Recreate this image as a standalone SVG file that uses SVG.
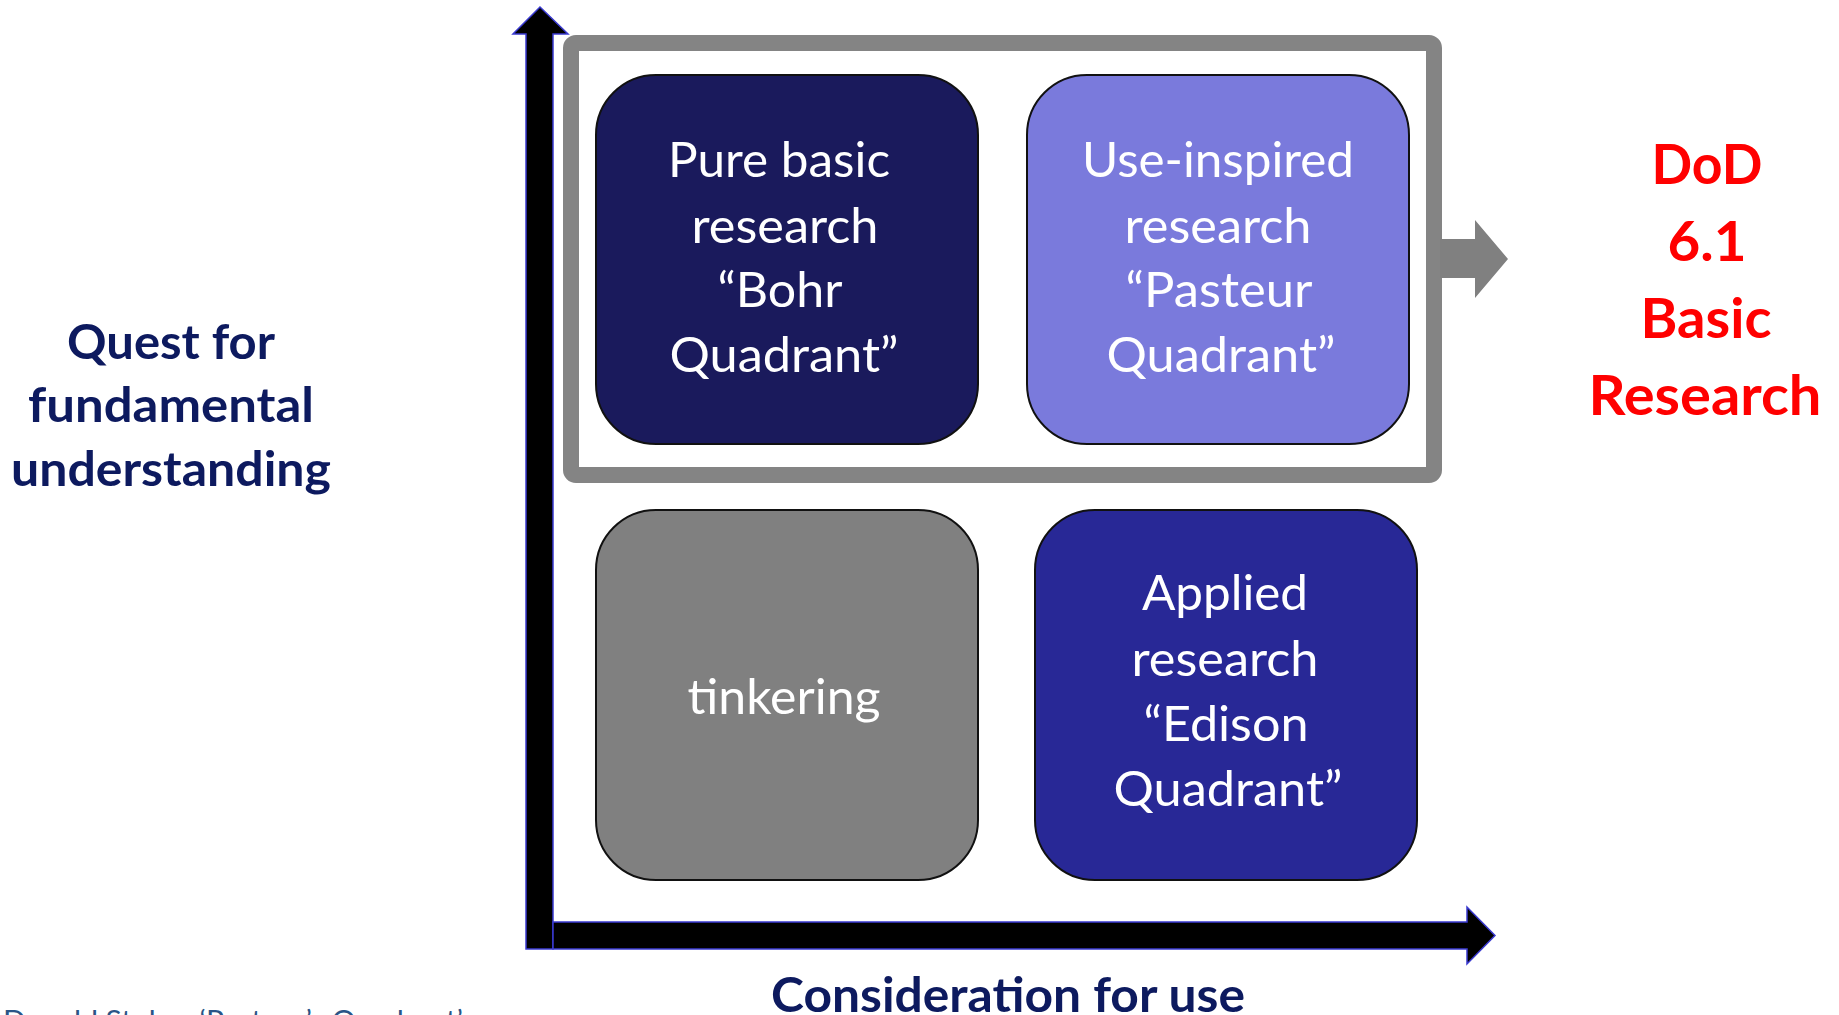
<svg xmlns="http://www.w3.org/2000/svg" width="1839" height="1015" viewBox="0 0 1839 1015">
  <style>
    .box { stroke: #111111; stroke-width: 2; }
    .wt { font-family: Lato, "Open Sans", "Liberation Sans", sans-serif; font-size: 48px; fill: #ffffff; text-anchor: middle; }
    .nv { font-family: Lato, "Open Sans", "Liberation Sans", sans-serif; font-weight: bold; font-size: 48px; fill: #0d1a5f; text-anchor: middle; }
    .rd { font-family: Lato, "Open Sans", "Liberation Sans", sans-serif; font-weight: bold; font-size: 55px; fill: #ff0000; text-anchor: middle; }
    .ft { font-family: Lato, "Open Sans", "Liberation Sans", sans-serif; font-size: 29px; fill: #2a5587; }
    .axis { fill: #000000; stroke: #3a3ad0; stroke-width: 1.5; }
  </style>
  <rect width="1839" height="1015" fill="#ffffff"/>

  <g id="frame">
    <rect x="571" y="43" width="863" height="432" rx="5" fill="none" stroke="#848484" stroke-width="16"/>
  </g>

  <g id="connectors">
    <polygon class="axis" points="526,949 526,34 513,34 540,7 568,34 553,34 553,949"/>
    <polygon class="axis" points="553,922 1467,922 1467,907 1495,935.5 1467,964 1467,949 553,949"/>
    <polygon fill="#808080" points="1440,239 1475,239 1475,220 1508,259 1475,298 1475,278 1440,278"/>
  </g>

  <g id="bohr">
    <rect class="box" x="596" y="75" width="382" height="369" rx="60" ry="60" fill="#1a1a5c"/>
    <text class="wt" x="779" y="177" textLength="222" lengthAdjust="spacingAndGlyphs">Pure basic</text>
    <text class="wt" x="785" y="243" textLength="187" lengthAdjust="spacingAndGlyphs">research</text>
    <text class="wt" x="780" y="307" textLength="125" lengthAdjust="spacingAndGlyphs">“Bohr</text>
    <text class="wt" x="784" y="372" textLength="229" lengthAdjust="spacingAndGlyphs">Quadrant”</text>
  </g>

  <g id="pasteur">
    <rect class="box" x="1027" y="75" width="382" height="369" rx="60" ry="60" fill="#7a7adc"/>
    <text class="wt" x="1218" y="177" textLength="272" lengthAdjust="spacingAndGlyphs">Use-inspired</text>
    <text class="wt" x="1218" y="243" textLength="187" lengthAdjust="spacingAndGlyphs">research</text>
    <text class="wt" x="1219" y="307" textLength="187" lengthAdjust="spacingAndGlyphs">“Pasteur</text>
    <text class="wt" x="1221" y="372" textLength="229" lengthAdjust="spacingAndGlyphs">Quadrant”</text>
  </g>

  <g id="tinkering">
    <rect class="box" x="596" y="510" width="382" height="370" rx="60" ry="60" fill="#808080"/>
    <text class="wt" x="784" y="714" textLength="193" lengthAdjust="spacingAndGlyphs">tinkering</text>
  </g>

  <g id="edison">
    <rect class="box" x="1035" y="510" width="382" height="370" rx="60" ry="60" fill="#282896"/>
    <text class="wt" x="1225" y="610" textLength="166" lengthAdjust="spacingAndGlyphs">Applied</text>
    <text class="wt" x="1225" y="676" textLength="187" lengthAdjust="spacingAndGlyphs">research</text>
    <text class="wt" x="1226" y="741" textLength="165" lengthAdjust="spacingAndGlyphs">“Edison</text>
    <text class="wt" x="1228" y="806" textLength="229" lengthAdjust="spacingAndGlyphs">Quadrant”</text>
  </g>

  <g id="label-y">
    <text class="nv" x="171" y="359" textLength="208" lengthAdjust="spacingAndGlyphs">Quest for</text>
    <text class="nv" x="171" y="422" textLength="286" lengthAdjust="spacingAndGlyphs">fundamental</text>
    <text class="nv" x="171" y="486" textLength="320" lengthAdjust="spacingAndGlyphs">understanding</text>
  </g>

  <g id="label-x">
    <text class="nv" x="1008" y="1012" textLength="474" lengthAdjust="spacingAndGlyphs">Consideration for use</text>
  </g>

  <g id="dod">
    <text class="rd" x="1707" y="184" textLength="111" lengthAdjust="spacingAndGlyphs">DoD</text>
    <text class="rd" x="1707" y="261" textLength="79" lengthAdjust="spacingAndGlyphs">6.1</text>
    <text class="rd" x="1706" y="338" textLength="131" lengthAdjust="spacingAndGlyphs">Basic</text>
    <text class="rd" x="1705" y="415" textLength="233" lengthAdjust="spacingAndGlyphs">Research</text>
  </g>

  <g id="footer">
    <text class="ft" x="3" y="1031" textLength="460" lengthAdjust="spacingAndGlyphs">Donald Stokes ‘Pasteur’s Quadrant’</text>
  </g>
</svg>
